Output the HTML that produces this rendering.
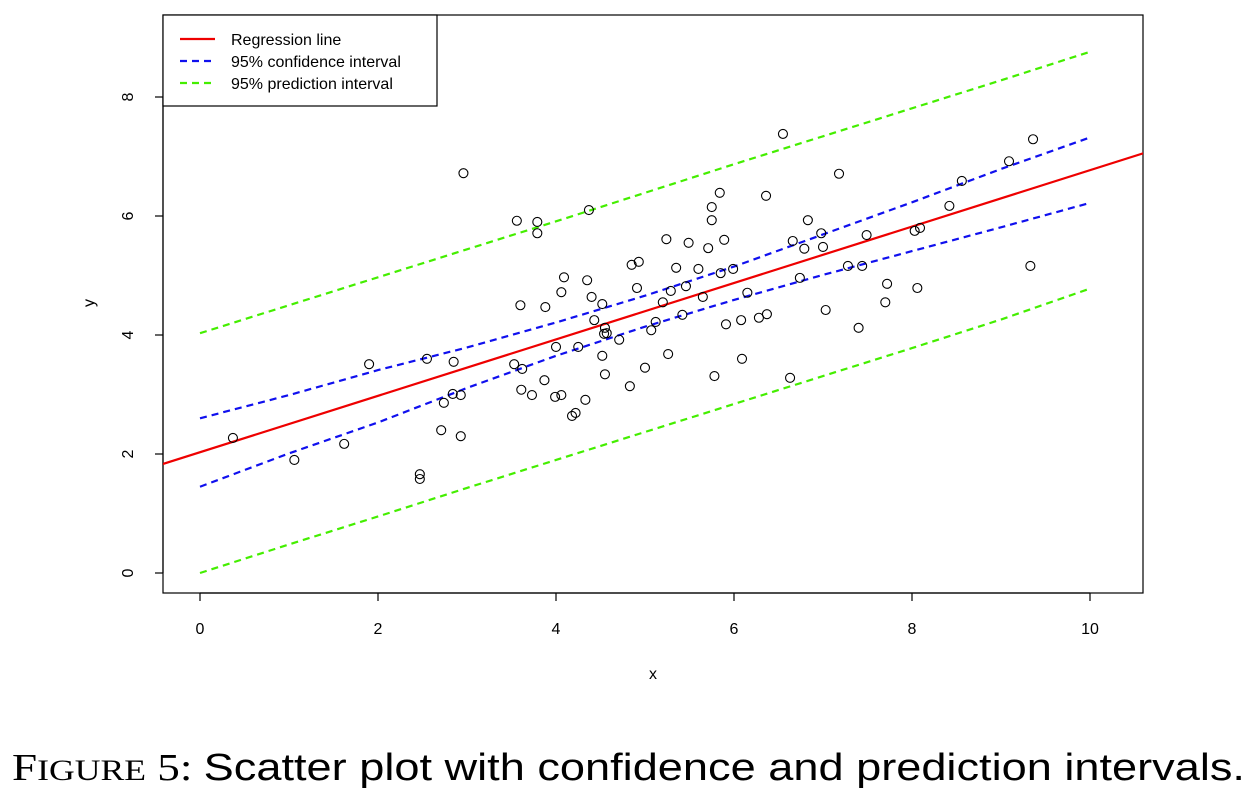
<!DOCTYPE html>
<html><head><meta charset="utf-8"><style>
body{margin:0;background:#fff;}
svg{display:block;font-family:"Liberation Sans",sans-serif;}
</style></head><body>
<svg id="chart" width="1258" height="788">
<defs><clipPath id="clip"><rect x="163" y="15" width="980" height="578"/></clipPath></defs>
<rect x="163" y="15" width="980" height="578" fill="none" stroke="#000" stroke-width="1.2"/>
<g id="axes"></g>
<g id="marks" clip-path="url(#clip)"></g>
<g id="legend">
<rect x="163" y="15" width="274" height="91" fill="#fff" stroke="#000" stroke-width="1.2"/>
<line x1="180" y1="39" x2="215" y2="39" stroke="#ee0000" stroke-width="2.2"/>
<text x="231" y="45" font-size="16">Regression line</text>
<line x1="180" y1="61" x2="215" y2="61" stroke="#1010ee" stroke-width="2.2" stroke-dasharray="7,5"/>
<text x="231" y="67" font-size="16">95% confidence interval</text>
<line x1="180" y1="83" x2="215" y2="83" stroke="#44ee00" stroke-width="2.2" stroke-dasharray="7,5"/>
<text x="231" y="89" font-size="16">95% prediction interval</text>
</g>
<text x="653" y="679" font-size="16" text-anchor="middle">x</text>
<text x="94" y="303" font-size="16" text-anchor="middle" transform="rotate(-90 94 303)">y</text>
<text x="12" y="780" font-size="38" font-family="Liberation Serif, serif" textLength="1233" lengthAdjust="spacingAndGlyphs">F<tspan font-size="30">IGURE</tspan> 5: <tspan font-family="Liberation Sans, sans-serif">Scatter plot with confidence and prediction intervals.</tspan></text>
</svg>
<script>
const xs=[0.37,1.06,1.62,1.90,2.47,2.47,2.55,2.71,2.74,2.84,2.85,2.93,2.93,2.96,3.56,3.60,3.53,3.62,3.61,3.73,3.79,3.79,3.87,3.88,3.99,4.00,4.06,4.06,4.09,4.18,4.22,4.25,4.33,4.35,4.37,4.40,4.43,4.52,4.54,4.52,4.55,4.55,4.57,4.71,4.83,4.85,4.91,4.93,5.00,5.07,5.12,5.20,5.24,5.26,5.29,5.35,5.42,5.46,5.49,5.60,5.65,5.71,5.75,5.75,5.78,5.84,5.85,5.89,5.91,5.99,6.08,6.09,6.15,6.28,6.37,6.55,6.36,6.63,6.66,6.74,6.79,6.83,6.98,7.00,7.03,7.18,7.28,7.40,7.44,7.49,7.70,7.72,8.03,8.06,8.09,8.42,8.56,9.09,9.33,9.36];
const ys=[2.27,1.90,2.17,3.51,1.66,1.58,3.60,2.40,2.86,3.01,3.55,2.99,2.30,6.72,5.92,4.50,3.51,3.43,3.08,2.99,5.71,5.90,3.24,4.47,2.96,3.80,2.99,4.72,4.97,2.64,2.69,3.80,2.91,4.92,6.10,4.64,4.25,4.52,4.02,3.65,3.34,4.12,4.03,3.92,3.14,5.18,4.79,5.23,3.45,4.08,4.22,4.55,5.61,3.68,4.74,5.13,4.34,4.82,5.55,5.11,4.64,5.46,5.93,6.15,3.31,6.39,5.04,5.60,4.18,5.11,4.25,3.60,4.71,4.29,4.35,7.38,6.34,3.28,5.58,4.96,5.45,5.93,5.71,5.48,4.42,6.71,5.16,4.12,5.16,5.68,4.55,4.86,5.75,4.79,5.80,6.17,6.59,6.92,5.16,7.29];
const intercept=2.03, slope=0.474;
const bandX=[0,1,2,3,4,5,6,7,8,9,10];
const ciUpper=[2.60,2.99,3.41,3.79,4.21,4.66,5.15,5.69,6.23,6.79,7.32];
const ciLower=[1.45,2.01,2.53,3.11,3.65,4.14,4.59,5.01,5.41,5.81,6.22];
const piUpper=[4.03,4.50,4.97,5.44,5.91,6.39,6.87,7.34,7.81,8.28,8.76];
const piLower=[0.00,0.48,0.95,1.43,1.90,2.37,2.84,3.31,3.78,4.26,4.78];
const xTicks=[0,2,4,6,8,10];
const yTicks=[0,2,4,6,8];
const X=v=>200+v*89, Y=v=>573-v*59.5;
const NS="http://www.w3.org/2000/svg";
const axes=document.getElementById('axes'), marks=document.getElementById('marks');
function mk(tag,attrs,parent){const e=document.createElementNS(NS,tag);for(const k in attrs)e.setAttribute(k,attrs[k]);parent.appendChild(e);return e;}
let e=mk('line',{x1:X(0),y1:593,x2:X(10),y2:593,stroke:'#000','stroke-width':1.2},axes);


xTicks.forEach(t=>{
 const l=mk('line',{x1:X(t),y1:593,x2:X(t),y2:601,stroke:'#000','stroke-width':1.2},axes);
 
 
 const tx=mk('text',{x:X(t),y:634,'font-size':16,'text-anchor':'middle'},axes);tx.textContent=t;
 
 
});
e=mk('line',{x1:163,y1:Y(0),x2:163,y2:Y(8),stroke:'#000','stroke-width':1.2},axes);


yTicks.forEach(t=>{
 const l=mk('line',{x1:155,y1:Y(t),x2:163,y2:Y(t),stroke:'#000','stroke-width':1.2},axes);
 
 
 const tx=mk('text',{x:133,y:Y(t),'font-size':16,'text-anchor':'middle',transform:`rotate(-90 133 ${Y(t)})`},axes);tx.textContent=t;
 
 
});
function band(arr,color,name){
 const d=bandX.map((x,i)=>(i?'L':'M')+X(x)+','+Y(arr[i])).join(' ');
 const p=mk('path',{d,fill:'none',stroke:color,'stroke-width':2.2,'stroke-dasharray':'7,5'},marks);
 
 
}
band(piUpper,'#44ee00','prediction-upper');
band(piLower,'#44ee00','prediction-lower');
band(ciUpper,'#1010ee','confidence-upper');
band(ciLower,'#1010ee','confidence-lower');
const x0=-0.5,x1=10.7;
e=mk('line',{x1:X(x0),y1:Y(intercept+slope*x0),x2:X(x1),y2:Y(intercept+slope*x1),stroke:'#ee0000','stroke-width':2.2},marks);


xs.forEach((x,i)=>{
 const c=mk('circle',{cx:X(x),cy:Y(ys[i]),r:4.5,fill:'none',stroke:'#000','stroke-width':1.1},marks);
 
 
});
</script>
</body></html>
